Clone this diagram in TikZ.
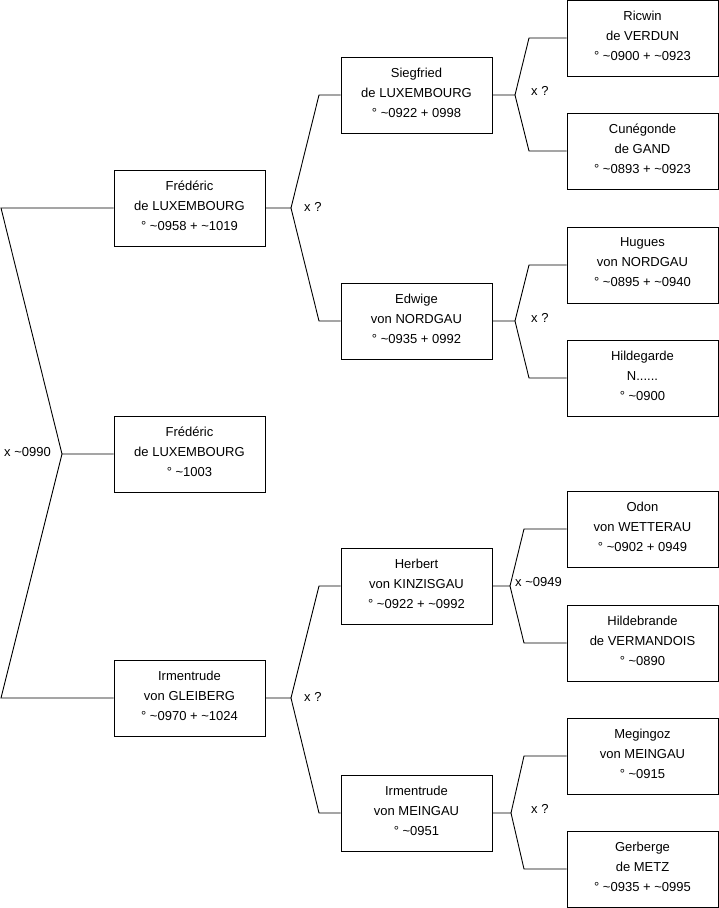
\documentclass[tikz,border=0pt]{standalone}
\usepackage{fontspec}
\setmainfont{Liberation Sans}
\begin{document}
\begin{tikzpicture}[x=1pt,y=-1pt,
  person/.style={draw=black,line width=1pt,minimum width=151pt,minimum height=76pt,align=center,inner sep=0pt,text depth=5pt,font=\fontsize{13}{20}\selectfont},
  link/.style={draw=black,line width=0.9pt},
  lbl/.style={anchor=west,inner sep=0pt,font=\fontsize{13}{15}\selectfont}]
\useasboundingbox (0,0) rectangle (719,908);
% column 1
\node[person] (fr1) at (189.5,208) {Frédéric\\de LUXEMBOURG\\° \textasciitilde0958 + \textasciitilde1019};
\node[person] (root) at (189.5,454) {Frédéric\\de LUXEMBOURG\\° \textasciitilde1003};
\node[person] (irm1) at (189.5,698) {Irmentrude\\von GLEIBERG\\° \textasciitilde0970 + \textasciitilde1024};
% column 2
\node[person] (sieg) at (416.5,95) {Siegfried\\de LUXEMBOURG\\° \textasciitilde0922 + 0998};
\node[person] (edw) at (416.5,321) {Edwige\\von NORDGAU\\° \textasciitilde0935 + 0992};
\node[person] (herb) at (416.5,586) {Herbert\\von KINZISGAU\\° \textasciitilde0922 + \textasciitilde0992};
\node[person] (irm2) at (416.5,813) {Irmentrude\\von MEINGAU\\° \textasciitilde0951};
% column 3
\node[person] (ric) at (642.5,38) {Ricwin\\de VERDUN\\° \textasciitilde0900 + \textasciitilde0923};
\node[person] (cun) at (642.5,151) {Cunégonde\\de GAND\\° \textasciitilde0893 + \textasciitilde0923};
\node[person] (hug) at (642.5,265) {Hugues\\von NORDGAU\\° \textasciitilde0895 + \textasciitilde0940};
\node[person] (hil) at (642.5,378) {Hildegarde\\N......\\° \textasciitilde0900};
\node[person] (odo) at (642.5,529) {Odon\\von WETTERAU\\° \textasciitilde0902 + 0949};
\node[person] (hib) at (642.5,643) {Hildebrande\\de VERMANDOIS\\° \textasciitilde0890};
\node[person] (meg) at (642.5,756) {Megingoz\\von MEINGAU\\° \textasciitilde0915};
\node[person] (ger) at (642.5,869) {Gerberge\\de METZ\\° \textasciitilde0935 + \textasciitilde0995};
% root bracket
\coordinate (v0) at (62,454);
\coordinate (v0a) at (1,208);
\coordinate (v0b) at (1,698);
\draw[link] (root.west) -- (v0) -- (v0a) -- (fr1.west);
\draw[link] (v0) -- (v0b) -- (irm1.west);
\node[lbl] (l0) at (4,452) {x \textasciitilde0990};
% fr1 bracket
\coordinate (v1) at (291,208);
\coordinate (v1a) at (319,95);
\coordinate (v1b) at (319,321);
\draw[link] (fr1.east) -- (v1) -- (v1a) -- (sieg.west);
\draw[link] (v1) -- (v1b) -- (edw.west);
\node[lbl] (l1) at (304,207) {x ?};
% irm1 bracket
\coordinate (v2) at (291,698);
\coordinate (v2a) at (319,586);
\coordinate (v2b) at (319,813);
\draw[link] (irm1.east) -- (v2) -- (v2a) -- (herb.west);
\draw[link] (v2) -- (v2b) -- (irm2.west);
\node[lbl] (l2) at (304,697) {x ?};
% sieg bracket
\coordinate (v3) at (515,95);
\coordinate (v3a) at (529,38);
\coordinate (v3b) at (529,151);
\draw[link] (sieg.east) -- (v3) -- (v3a) -- (ric.west);
\draw[link] (v3) -- (v3b) -- (cun.west);
\node[lbl] (l3) at (531,91) {x ?};
% edw bracket
\coordinate (v4) at (515,321);
\coordinate (v4a) at (529,265);
\coordinate (v4b) at (529,378);
\draw[link] (edw.east) -- (v4) -- (v4a) -- (hug.west);
\draw[link] (v4) -- (v4b) -- (hil.west);
\node[lbl] (l4) at (531,318) {x ?};
% herb bracket
\coordinate (v5) at (510,586);
\coordinate (v5a) at (524,529);
\coordinate (v5b) at (524,643);
\draw[link] (herb.east) -- (v5) -- (v5a) -- (odo.west);
\draw[link] (v5) -- (v5b) -- (hib.west);
\node[lbl] (l5) at (515,582) {x \textasciitilde0949};
% irm2 bracket
\coordinate (v6) at (511,813);
\coordinate (v6a) at (524,756);
\coordinate (v6b) at (524,869);
\draw[link] (irm2.east) -- (v6) -- (v6a) -- (meg.west);
\draw[link] (v6) -- (v6b) -- (ger.west);
\node[lbl] (l6) at (531,809) {x ?};
\end{tikzpicture}
\end{document}
